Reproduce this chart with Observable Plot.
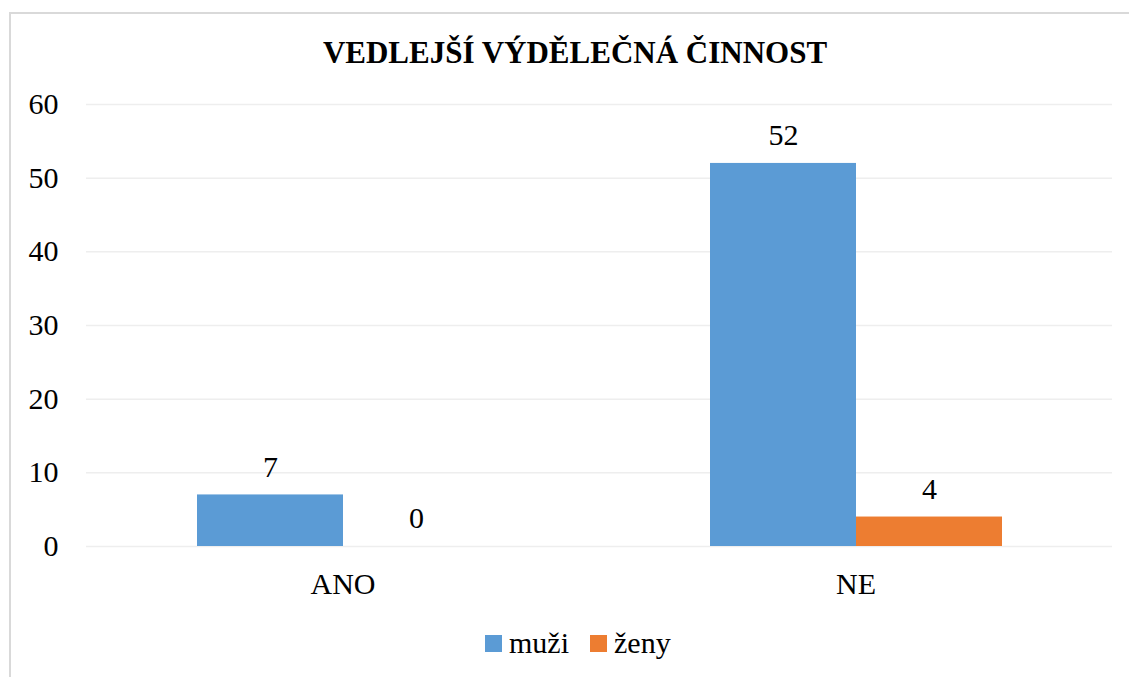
<!DOCTYPE html>
<html>
<head>
<meta charset="utf-8">
<script src="https://cdn.jsdelivr.net/npm/d3@7"></script>
<script src="https://cdn.jsdelivr.net/npm/@observablehq/plot@0.6"></script>
<style>
  html, body { margin: 0; padding: 0; background: #fff; overflow: hidden; }
  #wrap { position: relative; width: 1129px; height: 677px; overflow: hidden; font-family: "Liberation Serif", Tinos, "DejaVu Serif", serif; color: #000; }
  #frame { position: absolute; left: 9px; top: 12px; width: 1200px; height: 720px; border: 2px solid #d9d9d9; box-sizing: border-box; }
  #title { position: absolute; left: 0; top: 37px; width: 1150px; text-align: center; font-size: 31px; line-height: 31px; font-weight: bold; white-space: nowrap; }
  #chart { position: absolute; left: 0; top: 80px; }
  #legend { position: absolute; left: 485px; top: 628px; display: flex; align-items: flex-start; font-size: 30px; line-height: 30px; white-space: nowrap; }
  .item { display: flex; align-items: flex-start; margin-right: 21px; }
  .sw { width: 17px; height: 17px; margin-top: 7px; margin-right: 7px; }
  #chart svg text { font-family: "Liberation Serif", Tinos, "DejaVu Serif", serif; }
</style>
</head>
<body>
<div id="wrap">
  <div id="frame"></div>
  <div id="title"></div>
  <div id="chart"></div>
  <div id="legend"></div>
</div>
<script>
const title = "VEDLEJŠÍ VÝDĚLEČNÁ ČINNOST";
const categories = ["ANO", "NE"];
const series = ["muži", "ženy"];
const muzi = [7, 52];
const zeny = [0, 4];
const colors = ["#5B9BD5", "#ED7D31"];
const yTicks = [0, 10, 20, 30, 40, 50, 60];

const values = [muzi, zeny];
const data = [];
series.forEach((s, i) => categories.forEach((c, j) => data.push({category: c, series: s, value: values[i][j]})));

document.getElementById("title").textContent = title;

const serif = '"Liberation Serif", Tinos, "DejaVu Serif", serif';
const chart = Plot.plot({
  width: 1129,
  height: 540,
  marginTop: 24,
  marginBottom: 74,
  marginLeft: 86,
  marginRight: 17,
  style: {fontFamily: serif, fontSize: "30px", color: "#000", background: "transparent"},
  fx: {domain: categories, padding: 0, label: null, axis: "bottom", tickSize: 0, tickPadding: 26},
  x: {domain: series, paddingInner: 0, paddingOuter: 0.745, axis: null},
  y: {domain: [0, 60], ticks: yTicks, tickSize: 0, tickPadding: 28, label: null, tickFormat: d => String(d)},
  color: {domain: series, range: colors},
  marks: [
    Plot.ruleY(yTicks, {stroke: "#eeeeee", strokeWidth: 1.5}),
    Plot.barY(data, {fx: "category", x: "series", y: "value", fill: "series"}),
    Plot.text(data, {fx: "category", x: "series", y: "value", text: d => String(d.value), dy: -28, fill: "#000", fontSize: 30})
  ]
});
document.getElementById("chart").appendChild(chart);

const legend = document.getElementById("legend");
series.forEach((s, i) => {
  const item = document.createElement("div");
  item.className = "item";
  const sw = document.createElement("div");
  sw.className = "sw";
  sw.style.background = colors[i];
  const lab = document.createElement("span");
  lab.textContent = s;
  item.appendChild(sw);
  item.appendChild(lab);
  legend.appendChild(item);
});
</script>
</body>
</html>
